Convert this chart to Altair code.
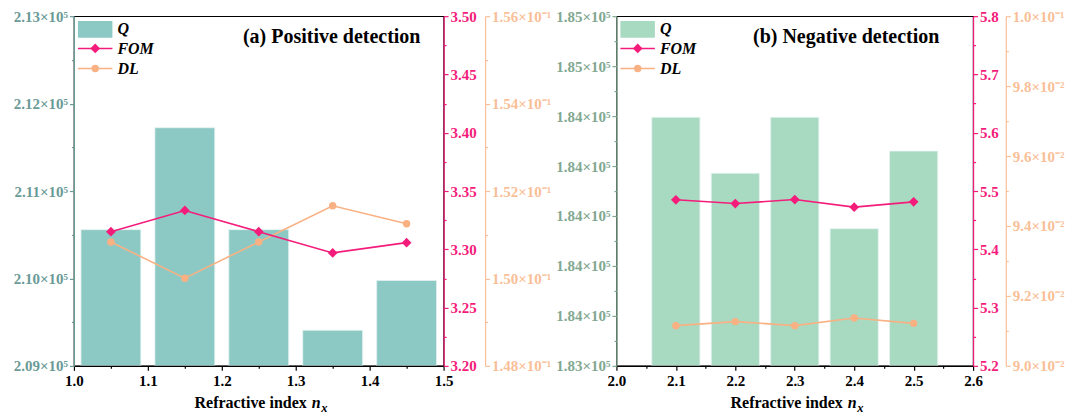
import altair as alt
import pandas as pd

# ---- data: (a) positive detection -------------------------------------
nx_pos = [1.05, 1.15, 1.25, 1.35, 1.45]
q_pos = [210558, 211724, 210558, 209407, 209977]
fom_pos = [3.3151, 3.3333, 3.3151, 3.2969, 3.3057]
dl_pos = [0.150835, 0.150006, 0.150835, 0.151663, 0.151252]

# ---- data: (b) negative detection -------------------------------------
nx_neg = [2.1, 2.2, 2.3, 2.4, 2.5]
q_neg = [184395, 184171, 184395, 183949, 184260]
fom_neg = [5.4849, 5.4785, 5.4854, 5.4723, 5.4814]
dl_neg = [0.091150, 0.091265, 0.091150, 0.091370, 0.091216]

# ---- tick positions (majors carry labels, the rest are minor ticks) ---
x_ticks_pos = [round(1.0 + 0.05 * i, 2) for i in range(11)]
x_ticks_neg = [round(2.0 + 0.05 * i, 2) for i in range(13)]
q_ticks_pos = [209000 + 500 * i for i in range(9)]
q_ticks_neg = [183400 + 100 * i for i in range(15)]
fom_ticks_pos = [round(3.2 + 0.025 * i, 3) for i in range(13)]
fom_ticks_neg = [round(5.2 + 0.05 * i, 2) for i in range(13)]
dl_ticks_pos = [round(0.148 + 0.001 * i, 3) for i in range(9)]
dl_ticks_neg = [round(0.090 + 0.001 * i, 3) for i in range(11)]

FONT = "Liberation Serif"
PINK = "#F41C7B"
ORANGE = "#F9B183"
ORANGE_AX = "#F9BF98"
BAR_W = 0.081


def axis(values, minor_test, label_expr, color, orient, offset=0, pad=2):
    return alt.Axis(
        values=values,
        orient=orient,
        offset=offset,
        title=None,
        grid=False,
        zindex=1,
        labelExpr=f"({minor_test}) ? '' : {label_expr}",
        labelFont=FONT,
        labelFontSize=15,
        labelFontWeight="bold",
        labelColor=color,
        labelOverlap=False,
        labelFlush=False,
        labelBound=False,
        labelPadding=pad,
        domainColor=color,
        domainWidth=1.2,
        tickColor=color,
        tickWidth=1.2,
        tickSize={"condition": {"test": minor_test, "value": 2.5}, "value": 4.5},
    )


def text(txt, x, y, size, style="normal", align="left", baseline="middle", color="black"):
    return alt.Chart(pd.DataFrame({"k": [0]})).mark_text(
        text=txt, font=FONT, fontSize=size, fontWeight="bold", fontStyle=style,
        align=align, baseline=baseline, color=color,
    ).encode(x=alt.value(x), y=alt.value(y))


def panel(nx, q, fom, dl, cfg):
    df = pd.DataFrame({"nx": nx, "Q": q, "FOM": fom, "DL": dl})
    w = cfg["width"]
    x_scale = alt.Scale(domain=cfg["xdom"], nice=False, zero=False)
    x_axis = axis(cfg["xticks"], "round(datum.value*20) % 2 == 1",
                  "format(datum.value, '.1f')", "black", "bottom", pad=3)

    bars = (
        alt.Chart(df)
        .transform_calculate(lo=f"datum.nx - {BAR_W / 2}", hi=f"datum.nx + {BAR_W / 2}")
        .mark_bar(color=cfg["bar"], stroke="#E4F3F1", strokeWidth=0.8)
        .encode(
            x=alt.X("lo:Q", scale=x_scale, axis=x_axis),
            x2="hi:Q",
            y=alt.Y("Q:Q", scale=alt.Scale(domain=cfg["qdom"], nice=False, zero=False),
                    axis=axis(cfg["qticks"], cfg["qminor"], cfg["qlabel"], cfg["qcolor"], "left")),
            y2=alt.datum(cfg["qdom"][0]),
        )
    )
    dl_line = (
        alt.Chart(df)
        .mark_line(color=ORANGE, strokeWidth=1.6,
                   point=alt.OverlayMarkDef(shape="circle", size=55, filled=True, color=ORANGE, opacity=1))
        .encode(
            x=alt.X("nx:Q", scale=x_scale, axis=x_axis),
            y=alt.Y("DL:Q", scale=alt.Scale(domain=cfg["dldom"], nice=False, zero=False),
                    axis=axis(cfg["dlticks"], "round(datum.value*1000) % 2 == 1", cfg["dllabel"],
                              ORANGE_AX, "right", cfg["dloffset"])),
        )
    )
    fom_line = (
        alt.Chart(df)
        .mark_line(color=PINK, strokeWidth=1.6,
                   point=alt.OverlayMarkDef(shape="diamond", size=95, filled=True, color=PINK, opacity=1))
        .encode(
            x=alt.X("nx:Q", scale=x_scale, axis=x_axis),
            y=alt.Y("FOM:Q", scale=alt.Scale(domain=cfg["fomdom"], nice=False, zero=False),
                    axis=axis(cfg["fomticks"], cfg["fomminor"], cfg["fomlabel"], PINK, "right")),
        )
    )

    # legend
    leg_rect = alt.Chart(pd.DataFrame({"k": [0]})).mark_rect(color=cfg["bar"]).encode(
        x=alt.value(4), x2=alt.value(38.5), y=alt.value(4.7), y2=alt.value(21.7))
    leg_fom = alt.Chart(pd.DataFrame({"k": [0]})).mark_rule(color=PINK, strokeWidth=1.6).encode(
        x=alt.value(4), x2=alt.value(38.5), y=alt.value(32.3))
    leg_fom_pt = alt.Chart(pd.DataFrame({"k": [0]})).mark_point(
        shape="diamond", size=95, filled=True, color=PINK, opacity=1).encode(
        x=alt.value(21.3), y=alt.value(32.3))
    leg_dl = alt.Chart(pd.DataFrame({"k": [0]})).mark_rule(color=ORANGE, strokeWidth=1.6).encode(
        x=alt.value(4), x2=alt.value(38.5), y=alt.value(52.3))
    leg_dl_pt = alt.Chart(pd.DataFrame({"k": [0]})).mark_point(
        shape="circle", size=55, filled=True, color=ORANGE, opacity=1).encode(
        x=alt.value(21.3), y=alt.value(52.3))

    labels = [
        text("Q", 43.5, 12.5, 16, "italic"),
        text("FOM", 43.5, 32.5, 16, "italic"),
        text("DL", 43.5, 52.5, 16, "italic"),
        text(cfg["title"], cfg["title_x"], 21, 20, align="center"),
        text("Refractive index", w / 2 + 48, 392, 16, align="right", baseline="alphabetic"),
        text("n", w / 2 + 53, 392, 16, "italic", baseline="alphabetic"),
        text("x", w / 2 + 62.5, 396.5, 12.5, "italic", baseline="alphabetic"),
    ]

    return (
        alt.layer(bars, dl_line, fom_line, leg_rect, leg_fom, leg_fom_pt, leg_dl, leg_dl_pt, *labels)
        .resolve_scale(y="independent")
        .properties(width=w, height=350)
    )


pos_cfg = dict(
    width=370, xdom=[1.0, 1.5], xticks=x_ticks_pos,
    bar="#8CC9C5", qcolor="#6B9B97", qdom=[209000, 213000], qticks=q_ticks_pos,
    qminor="round(datum.value/500) % 2 == 1",
    qlabel="format(datum.value/1e5, '.2f') + '×10⁵'",
    fomdom=[3.2, 3.5], fomticks=fom_ticks_pos,
    fomminor="round(datum.value*40) % 2 == 1", fomlabel="format(datum.value, '.2f')",
    dldom=[0.148, 0.156], dlticks=dl_ticks_pos,
    dllabel="format(datum.value*10, '.2f') + '×10⁻¹'", dloffset=41.5,
    title="(a) Positive detection", title_x=258,
)
neg_cfg = dict(
    width=357, xdom=[2.0, 2.6], xticks=x_ticks_neg,
    bar="#A8D9C1", qcolor="#82A891", qdom=[183400, 184800], qticks=q_ticks_neg,
    qminor="round(datum.value/100) % 2 == 1",
    qlabel="format(datum.value/1e5, '.2f') + '×10⁵'",
    fomdom=[5.2, 5.8], fomticks=fom_ticks_neg,
    fomminor="round(datum.value*20) % 2 == 1", fomlabel="format(datum.value, '.1f')",
    dldom=[0.090, 0.100], dlticks=dl_ticks_neg,
    dllabel="datum.value > 0.0995 ? '1.0×10⁻¹' : format(datum.value*100, '.1f') + '×10⁻²'",
    dloffset=32.7,
    title="(b) Negative detection", title_x=230,
)

chart = (
    alt.hconcat(
        panel(nx_pos, q_pos, fom_pos, dl_pos, pos_cfg),
        panel(nx_neg, q_neg, fom_neg, dl_neg, neg_cfg),
        spacing=3,
    )
    .properties(padding={"left": 12, "top": 8, "right": 2, "bottom": 2}, background="white")
    .configure_view(stroke="black", strokeWidth=1.2)
)

chart.save("out.html", embed_options={"renderer": "svg", "actions": False})
